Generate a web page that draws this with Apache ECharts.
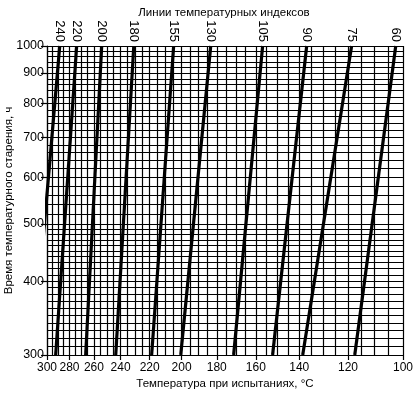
<!DOCTYPE html>
<html>
<head>
<meta charset="utf-8">
<script src="https://cdn.jsdelivr.net/npm/echarts@6/dist/echarts.min.js"></script>
<style>
html,body{margin:0;padding:0;background:#fff;}
#c{width:417px;height:393px;}
</style>
</head>
<body>
<div id="c"></div>
<script>
// ---- data ----
const tempTicks = [300, 280, 260, 240, 220, 200, 180, 160, 140, 120, 100];
const hourTicks = [300, 400, 500, 600, 700, 800, 900, 1000];
const indexLabels = ['240', '220', '200', '180', '155', '130', '105', '90', '75', '60'];
const tempAt300h = [313.1, 292.1, 266.6, 243.5, 218.7, 200.5, 171.1, 152.0, 138.5, 117.4];
const tempAt1000h = [288.5, 274.0, 254.0, 230.7, 204.8, 183.3, 156.7, 136.8, 118.6, 102.5];
const tempGrid = [];
for (let t = 100; t <= 300; t += 5) tempGrid.push(t);
const hourGrid = [];
for (let h = 300; h < 500; h += 10) hourGrid.push(h);
for (let h = 500; h <= 1000; h += 20) hourGrid.push(h);

// ---- scales (reciprocal temperature axis, logarithmic time axis) ----
const X = t => 1 / (t + 210);
const Xinv = u => 1 / u - 210;
const Y = h => Math.log10(h);
const font = 'Liberation Sans, Arial, sans-serif';

const chart = echarts.init(document.getElementById('c'), null, {renderer: 'canvas'});

const gridCoords = tempGrid.map(t => ({coords: [[X(t), Y(300)], [X(t), Y(1000)]]}))
  .concat(hourGrid.map(h => ({coords: [[X(300), Y(h)], [X(100), Y(h)]]})));

const series = [{
  type: 'lines', coordinateSystem: 'cartesian2d', xAxisIndex: 0, yAxisIndex: 0, z: 1,
  silent: true, animation: false, polyline: false, effect: {show: false},
  lineStyle: {color: '#000', width: 1.2, opacity: 1, curveness: 0},
  data: gridCoords
}];
indexLabels.forEach((name, i) => {
  series.push({
    type: 'line', name: name, xAxisIndex: 0, yAxisIndex: 0, z: 5,
    data: [[X(tempAt300h[i]), Y(300)], [X(tempAt1000h[i]), Y(1000)]],
    symbol: 'none', clip: true, silent: true, animation: false,
    lineStyle: {color: '#000', width: 3.2}
  });
});

chart.setOption({
  animation: false,
  backgroundColor: '#fff',
  title: {
    text: 'Линии температурных индексов',
    left: 219, top: 2, textAlign: 'center',
    textStyle: {fontFamily: font, fontSize: 11.5, fontWeight: 'normal', color: '#000'}
  },
  grid: {left: 47, right: 14, top: 46, bottom: 38, containLabel: false, outerBoundsMode: 'none'},
  xAxis: [{
    type: 'value', position: 'bottom', min: X(300), max: X(100),
    axisLine: {show: true, onZero: false, lineStyle: {color: '#000', width: 1.2}},
    axisTick: {show: true, length: 5, customValues: tempTicks.map(X), lineStyle: {color: '#000', width: 1.2}},
    axisLabel: {
      customValues: tempTicks.map(X), color: '#000', fontFamily: font, fontSize: 12, margin: 7,
      formatter: v => String(Math.round(Xinv(v)))
    },
    splitLine: {show: false},
    name: 'Температура при испытаниях, °С', nameLocation: 'middle', nameGap: 23, nameMoveOverlap: false,
    nameTextStyle: {fontFamily: font, fontSize: 11.5, color: '#000'}
  }, {
    type: 'value', position: 'top', min: X(300), max: X(100),
    axisLine: {show: false}, axisTick: {show: false}, splitLine: {show: false},
    axisLabel: {
      customValues: tempAt1000h.map(X), rotate: 90, margin: 4, color: '#000',
      fontFamily: font, fontSize: 13,
      formatter: v => {
        let best = 0, bd = Infinity;
        tempAt1000h.forEach((t, i) => { const d = Math.abs(X(t) - v); if (d < bd) { bd = d; best = i; } });
        return indexLabels[best];
      }
    }
  }],
  yAxis: [{
    type: 'value', min: Y(300), max: Y(1000),
    axisLine: {show: true, onZero: false, lineStyle: {color: '#000', width: 1.2}},
    axisTick: {show: true, length: 6, customValues: hourTicks.map(Y), lineStyle: {color: '#000', width: 1.2}},
    axisLabel: {
      customValues: hourTicks.map(Y), color: '#000', fontFamily: font, fontSize: 12.5, margin: 3,
      formatter: v => String(Math.round(Math.pow(10, v)))
    },
    splitLine: {show: false},
    name: 'Время температурного старения, ч', nameLocation: 'middle', nameGap: 32, nameMoveOverlap: false,
    nameTextStyle: {fontFamily: font, fontSize: 11.5, color: '#000'}
  }],
  series: series
});
</script>
</body>
</html>
